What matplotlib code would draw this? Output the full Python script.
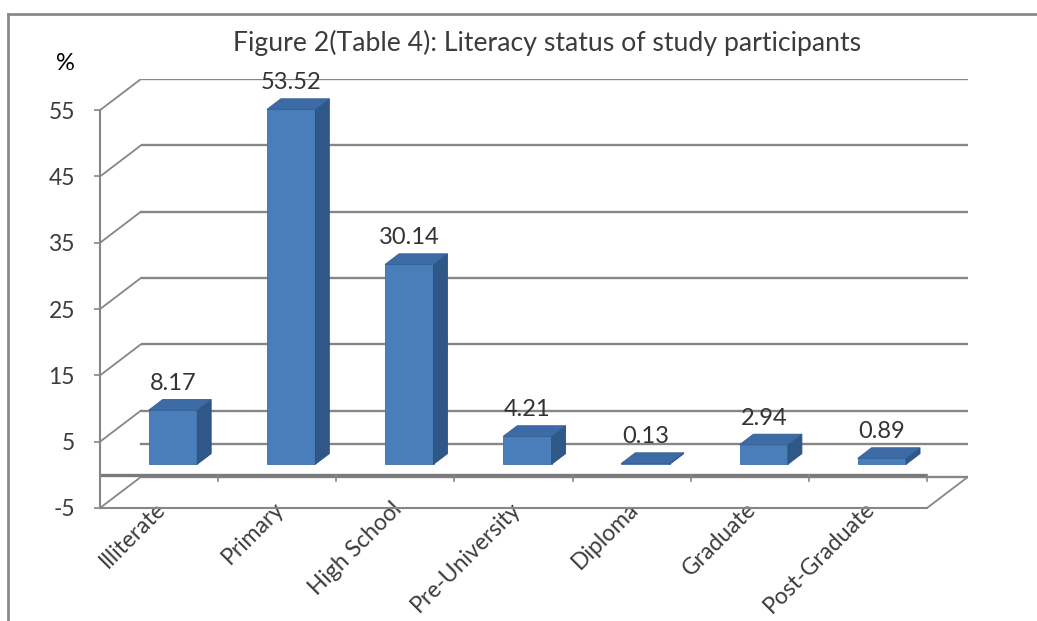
import matplotlib
matplotlib.use("Agg")
import matplotlib.pyplot as plt
from matplotlib.patches import Polygon
from matplotlib.lines import Line2D
from matplotlib.transforms import ScaledTranslation
import numpy as np

# ---- data -------------------------------------------------------------
categories = ["Illiterate", "Primary", "High School", "Pre-University",
              "Diploma", "Graduate", "Post-Graduate"]
percent = [8.17, 53.52, 30.14, 4.21, 0.13, 2.94, 0.89]
y_ticks = [-5, 5, 15, 25, 35, 45, 55]
title = "Figure 2(Table 4): Literacy status of study participants"
unit_label = "%"

# ---- figure / style ---------------------------------------------------
plt.rcParams["font.family"] = ["Lato", "DejaVu Sans"]
plt.rcParams["axes.unicode_minus"] = False
W, H, DPI = 1037, 621, 100
fig = plt.figure(figsize=(W / DPI, H / DPI), dpi=DPI)
fig.patch.set_facecolor("white")

GRID = "#868686"
TEXT = "#3c3c3c"
FRONT = "#4a7ebb"
SIDE = "#2f5888"
TOP = "#3d6ba6"

# pseudo-3D depth shift, expressed in data units
DX = 0.347          # along the category axis
DY = 4.7            # along the value axis
F0, F1 = 0.34, 0.68 # bar front / back depth fractions
BW = 0.41           # bar width in category units

ymin, ymax = y_ticks[0], y_ticks[-1]
xmin, xmax = -0.5, len(categories) - 0.5

left_px, right_px, top_px, bottom_px = 100, 968, 79, 508
ax = fig.add_axes([left_px / W, 1 - bottom_px / H,
                   (right_px - left_px) / W, (bottom_px - top_px) / H])
ax.set_xlim(xmin, xmax + DX)
ax.set_ylim(ymin, ymax + DY)
ax.patch.set_visible(False)

# ---- walls and gridlines -----------------------------------------------
for v in y_ticks:
    ax.plot([xmin + DX, xmax + DX], [v + DY, v + DY], color=GRID, lw=1.7,
            zorder=1, solid_capstyle="butt")
    ax.plot([xmin, xmin + DX], [v, v + DY], color=GRID, lw=1.3, zorder=1)
# floor at zero: back edge
ax.plot([xmin + DX, xmax + DX], [DY, DY], color=GRID, lw=1.7, zorder=1)
# right edge of the base box
ax.plot([xmax, xmax + DX], [ymin, ymin + DY], color=GRID, lw=1.3, zorder=1)
# category axis at zero (front floor edge) with boundary ticks
ax.plot([xmin, xmax], [0, 0], color="#7a7a7a", lw=2.4, zorder=4,
        solid_capstyle="butt")
tick_len = 0.9
for b in np.arange(xmin + 1, xmax + 0.01, 1.0):
    ax.plot([b, b], [0, -tick_len], color=GRID, lw=1.2, zorder=4)

# ---- spines / ticks ----------------------------------------------------
for s in ("top", "right"):
    ax.spines[s].set_visible(False)
ax.spines["left"].set_bounds(ymin, ymax)
ax.spines["bottom"].set_bounds(xmin, xmax)
for s in ("left", "bottom"):
    ax.spines[s].set_color(GRID)
    ax.spines[s].set_linewidth(1.5)

ax.set_yticks(y_ticks)
ax.tick_params(axis="y", direction="out", length=4.5, width=1.2, color=GRID,
               pad=13.5, labelsize=16.5, labelcolor=TEXT)

ax.set_xticks(range(len(categories)))
ax.set_xticklabels(categories, rotation=45, ha="right", va="top",
                   rotation_mode="anchor")
ax.tick_params(axis="x", length=0, pad=-7, labelsize=16.5, labelcolor=TEXT)
shift = ScaledTranslation(-3 / 72, 0, fig.dpi_scale_trans)
for lab in ax.get_xticklabels():
    lab.set_transform(lab.get_transform() + shift)

# ---- 3D bars -----------------------------------------------------------
ddx, ddy = (F1 - F0) * DX, (F1 - F0) * DY
for i, v in enumerate(percent):
    x0 = i - BW / 2 + F0 * DX
    x1 = x0 + BW
    y0 = F0 * DY
    y1 = v + F0 * DY
    front = Polygon([(x0, y0), (x1, y0), (x1, y1), (x0, y1)], closed=True,
                    facecolor=FRONT, edgecolor="#3f6fa8", lw=0.6, zorder=3)
    side = Polygon([(x1, y0), (x1 + ddx, y0 + ddy), (x1 + ddx, y1 + ddy),
                    (x1, y1)], closed=True, facecolor=SIDE,
                   edgecolor="#2a4f7c", lw=0.6, zorder=3)
    top = Polygon([(x0, y1), (x1, y1), (x1 + ddx, y1 + ddy),
                   (x0 + ddx, y1 + ddy)], closed=True, facecolor=TOP,
                  edgecolor="#345f95", lw=0.6, zorder=3)
    for p in (front, side, top):
        ax.add_patch(p)
    ax.annotate(f"{v:.2f}", xy=(i + F0 * DX, v + F1 * DY), xytext=(0, 11.5),
                textcoords="offset points", ha="center", va="center",
                fontsize=17, color="#333333", zorder=5)

# ---- titles and frame --------------------------------------------------
fig.text(547 / W, 1 - 43 / H, title, ha="center", va="center",
         fontsize=19.2, color=TEXT)
fig.text(65 / W, 1 - 63 / H, unit_label, ha="center", va="center",
         fontsize=17, color="black")

fig.add_artist(Line2D([8 / W, 8 / W], [0, 1 - 14 / H],
                      transform=fig.transFigure, color="#8a8a8a", lw=2))
fig.add_artist(Line2D([8 / W, 1], [1 - 14 / H, 1 - 14 / H],
                      transform=fig.transFigure, color="#8a8a8a", lw=2))

fig.savefig("out.png", dpi=DPI, facecolor="white")
